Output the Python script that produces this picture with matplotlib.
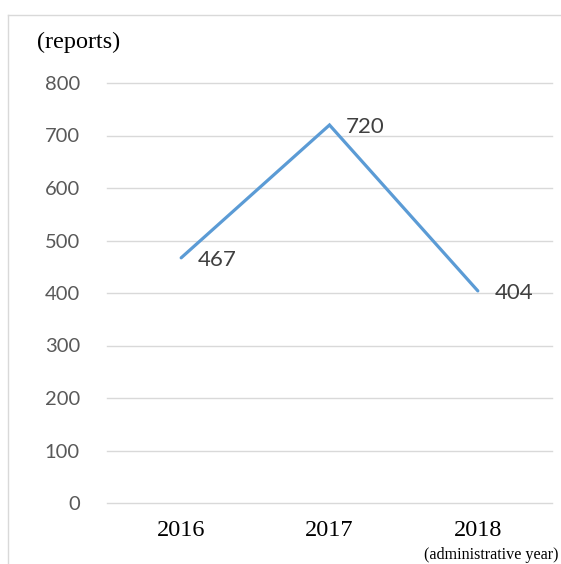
import matplotlib.pyplot as plt
from matplotlib.lines import Line2D

# report counts per administrative year
years = ['2016', '2017', '2018']
reports = [467, 720, 404]
y_ticks = [0, 100, 200, 300, 400, 500, 600, 700, 800]

W, H = 561, 564
fig = plt.figure(figsize=(W / 100, H / 100), dpi=100)

# outer chart frame (top and left edges visible)
frame_kw = dict(color='#d9d9d9', linewidth=1.0, transform=fig.transFigure)
fig.add_artist(Line2D([8 / W, 1.0], [1 - 15 / H, 1 - 15 / H], **frame_kw))
fig.add_artist(Line2D([8 / W, 8 / W], [0.0, 1 - 15 / H], **frame_kw))

ax = fig.add_axes([107 / W, 61 / H, 445 / W, 420 / H])
x = list(range(len(years)))
ax.plot(x, reports, color='#5b9bd5', linewidth=2.3, solid_capstyle='round',
        solid_joinstyle='miter', zorder=3, clip_on=False)

for xi, v in zip(x, reports):
    ax.annotate(str(v), (xi, v), xytext=(12, -1.5), textcoords='offset points',
                ha='left', va='center', fontsize=16, family='Lato', color='#404040')

ax.set_xlim(-0.5, 2.5)
ax.set_ylim(0, 800)
ax.set_yticks(y_ticks)
ax.set_yticklabels([str(t) for t in y_ticks], family='Lato', fontsize=14.5, color='#595959')
ax.set_xticks(x)
ax.set_xticklabels(years, family='Liberation Serif', fontsize=17.5, color='black')
ax.tick_params(axis='both', length=0)
ax.tick_params(axis='y', pad=19.5)
ax.tick_params(axis='x', pad=12)
ax.grid(axis='y', color='#d9d9d9', linewidth=1.0)
for gl in ax.get_ygridlines():
    gl.set_clip_on(False)
ax.set_axisbelow(True)
for s in ax.spines.values():
    s.set_visible(False)

fig.text(37 / W, 1 - 42 / H, '(reports)', family='Liberation Serif', fontsize=17.4,
         ha='left', va='center')
fig.text(559 / W, 1 - 555 / H, '(administrative year)', family='Liberation Serif',
         fontsize=11.6, ha='right', va='center')

plt.savefig('out.png', dpi=100)
